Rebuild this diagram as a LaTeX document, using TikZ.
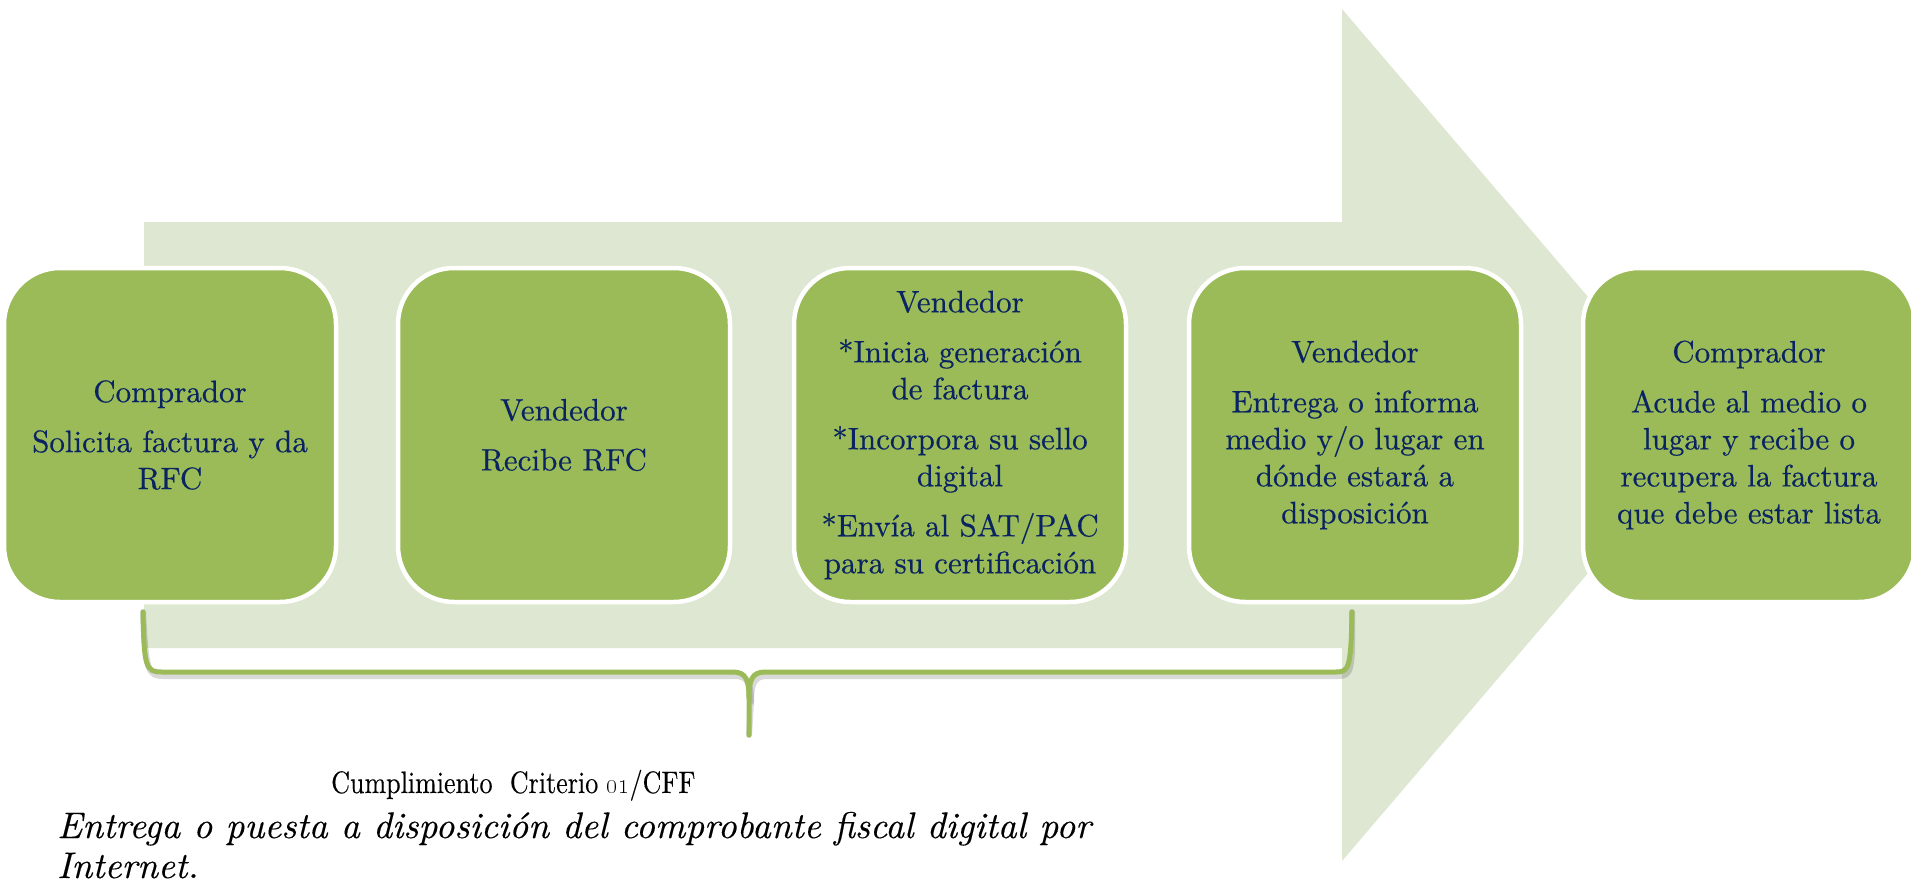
\documentclass[tikz,border=0pt]{standalone}
\usepackage{fontspec}
\newfontfamily\boxfont{lmroman10-regular}[Extension=.otf, FakeBold=0.5]
\newfontfamily\capfont{lmroman10-regular}[Extension=.otf, FakeBold=0.3]
\newfontfamily\italfont{lmroman10-italic}[Extension=.otf, FakeBold=0.3]
\newcommand\osnum[1]{{\fontencoding{TS1}\fontfamily{lmr}\selectfont #1}}
\usepackage{xcolor}
\definecolor{boxgreen}{HTML}{9BBB59}
\definecolor{arrowgreen}{HTML}{DEE7D1}
\definecolor{navy}{HTML}{0A2462}
\begin{document}
\begin{tikzpicture}[x=1pt,y=-1pt,
  stepbox/.style={draw=white, line width=4.5pt, fill=boxgreen, rounded corners=56pt,
    minimum width=332pt, minimum height=334pt, text=navy, align=center,
    font=\boxfont\fontsize{31}{37}\selectfont, inner sep=0pt},
  bracestyle/.style={draw=boxgreen, line width=5pt, line cap=round, line join=round},
  braceshadow/.style={draw=black, opacity=0.15, line width=6pt, line cap=round, line join=round},
  caption/.style={anchor=base west, font=\capfont\fontsize{31}{35}\selectfont, text=black, inner sep=0pt},
  italcap/.style={caption, font=\italfont\fontsize{37}{40}\selectfont}]
\useasboundingbox (0,0) rectangle (1911,886);
% big background arrow
\fill[arrowgreen] (144,222) -- (1342,222) -- (1342,9) -- (1706,435) -- (1342,861) -- (1342,648) -- (144,648) -- cycle;
% brace
\coordinate (bl) at (143,612);
\coordinate (br) at (1352,612);
\coordinate (bt) at (749,735);
\begin{scope}[shift={(2,4)}]
\draw[braceshadow] (bl) .. controls (144,668) and (146,672) .. (162,672) -- (733,672)
  .. controls (746,672) and (749,680) .. (749,698) -- (bt);
\draw[braceshadow] (br) .. controls (1351,668) and (1349,672) .. (1336,672) -- (765,672)
  .. controls (752,672) and (749,680) .. (749,698);
\end{scope}
\draw[bracestyle] (bl) .. controls (144,668) and (146,672) .. (162,672) -- (733,672)
  .. controls (746,672) and (749,680) .. (749,698) -- (bt);
\draw[bracestyle] (br) .. controls (1351,668) and (1349,672) .. (1336,672) -- (765,672)
  .. controls (752,672) and (749,680) .. (749,698);
% boxes
\node[stepbox] (b1) at (170,435) {Comprador\\[13pt]Solicita factura y da\\RFC};
\node[stepbox] (b2) at (564,435) {Vendedor\\[13pt]Recibe RFC};
\node[stepbox] (b3) at (960,435) {Vendedor\\[13pt]*Inicia generación\\de factura\\[13pt]*Incorpora su sello\\digital\\[13pt]*Envía al SAT/PAC\\para su certificación};
\node[stepbox] (b4) at (1355,435) {Vendedor\\[13pt]Entrega o informa\\medio y/o lugar en\\dónde estará a\\disposición};
\node[stepbox] (b5) at (1749,435) {Comprador\\[13pt]Acude al medio o\\lugar y recibe o\\recupera la factura\\que debe estar lista};
% captions
\node[caption] (crit) at (331,793) {\scalebox{0.84}[1]{Cumplimiento\ \ Criterio \osnum{01}/CFF}};
\node[italcap] (desc1) at (57,838) {Entrega o puesta a disposición del comprobante fiscal digital por};
\node[italcap] (desc2) at (57,878) {Internet.};
\end{tikzpicture}
\end{document}
